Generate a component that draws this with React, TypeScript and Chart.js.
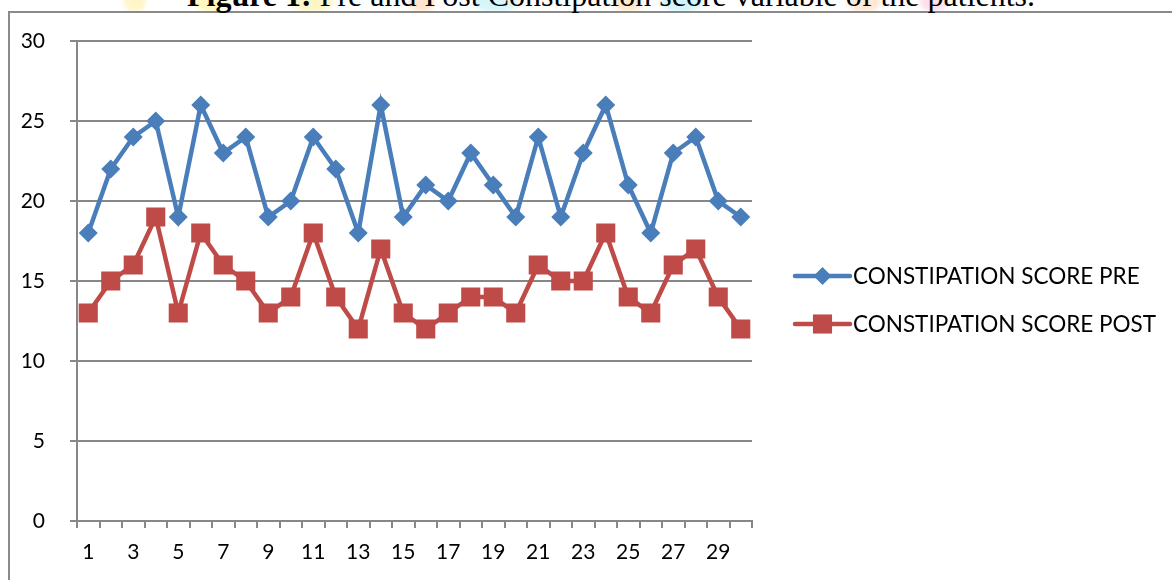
import React, { useEffect, useRef } from "react";
import { Chart, registerables } from "chart.js";

Chart.register(...registerables);

// Patient numbers along the x axis
const patients: string[] = Array.from({ length: 30 }, (_, i) => String(i + 1));

// Constipation score before treatment
const scorePre: number[] = [
  18, 22, 24, 25, 19, 26, 23, 24, 19, 20,
  24, 22, 18, 26, 19, 21, 20, 23, 21, 19,
  24, 19, 23, 26, 21, 18, 23, 24, 20, 19,
];

// Constipation score after treatment
const scorePost: number[] = [
  13, 15, 16, 19, 13, 18, 16, 15, 13, 14,
  18, 14, 12, 17, 13, 12, 13, 14, 14, 13,
  16, 15, 15, 18, 14, 13, 16, 17, 14, 12,
];

const seriesNames = ["CONSTIPATION SCORE PRE", "CONSTIPATION SCORE POST"];

const BLUE = "#4a7ebb";
const RED = "#be4b48";
const GRID = "#878787";
const FONT = "Lato, 'Liberation Sans', sans-serif";

// Pale decorative spots of the page background behind the heading
const spots = [
  { x: 135, w: 22, c: "#fff6c8" },
  { x: 212, w: 36, c: "#fff8c0" },
  { x: 312, w: 44, c: "#fbf6c6" },
  { x: 422, w: 26, c: "#ffe6cc" },
  { x: 496, w: 46, c: "#d6f6fb" },
  { x: 628, w: 30, c: "#ffe8d2" },
  { x: 682, w: 42, c: "#d2f4fa" },
  { x: 864, w: 34, c: "#ffe8d6" },
  { x: 934, w: 28, c: "#fde0ec" },
];

// Legend drawn as a line with its marker in the middle, Office style
const lineLegend = {
  id: "lineLegend",
  afterDraw(chart: any) {
    const { ctx, chartArea } = chart;
    const x0 = chartArea.right + 43;
    const lineLen = 55;
    const rows = [
      { y: 276, color: BLUE, style: "rectRot", radius: 9 },
      { y: 324, color: RED, style: "rect", radius: 13.5 },
    ];
    ctx.save();
    rows.forEach((r, i) => {
      ctx.strokeStyle = r.color;
      ctx.lineWidth = 4.5;
      ctx.lineCap = "round";
      ctx.beginPath();
      ctx.moveTo(x0, r.y);
      ctx.lineTo(x0 + lineLen, r.y);
      ctx.stroke();
      ctx.fillStyle = r.color;
      const cx = x0 + lineLen / 2;
      ctx.beginPath();
      if (r.style === "rectRot") {
        ctx.moveTo(cx, r.y - r.radius);
        ctx.lineTo(cx + r.radius, r.y);
        ctx.lineTo(cx, r.y + r.radius);
        ctx.lineTo(cx - r.radius, r.y);
      } else {
        const h = r.radius * Math.SQRT1_2;
        ctx.rect(cx - h, r.y - h, 2 * h, 2 * h);
      }
      ctx.closePath();
      ctx.fill();
      ctx.fillStyle = "#000";
      ctx.font = `22.5px ${FONT}`;
      ctx.textBaseline = "middle";
      ctx.textAlign = "left";
      ctx.fillText(seriesNames[i], x0 + lineLen + 3, r.y + 1);
    });
    ctx.restore();
  },
};

export default function App() {
  const canvasRef = useRef<HTMLCanvasElement | null>(null);

  useEffect(() => {
    const canvas = canvasRef.current;
    if (!canvas) return;
    const chart = new Chart(canvas, {
      type: "line",
      data: {
        labels: patients,
        datasets: [
          {
            label: seriesNames[0],
            data: scorePre,
            borderColor: BLUE,
            backgroundColor: BLUE,
            borderWidth: 4.5,
            pointStyle: "rectRot",
            pointRadius: 9.5,
            pointBorderWidth: 0,
            pointBackgroundColor: BLUE,
            tension: 0,
          },
          {
            label: seriesNames[1],
            data: scorePost,
            borderColor: RED,
            backgroundColor: RED,
            borderWidth: 4.5,
            pointStyle: "rect",
            pointRadius: 13.5,
            pointBorderWidth: 0,
            pointBackgroundColor: RED,
            tension: 0,
          },
        ],
      },
      options: {
        responsive: false,
        animation: false,
        layout: { padding: { top: 41, right: 420, bottom: 0, left: 0 } },
        plugins: {
          legend: { display: false },
          tooltip: { enabled: false },
          title: { display: false },
        },
        scales: {
          x: {
            offset: true,
            afterFit: (s: any) => {
              s.height = 59;
            },
            grid: {
              offset: true,
              drawOnChartArea: false,
              drawTicks: true,
              tickLength: 7,
              color: GRID,
              lineWidth: 2,
            },
            border: { display: true, color: GRID, width: 2 },
            ticks: {
              autoSkip: false,
              maxRotation: 0,
              padding: 12,
              color: "#000",
              font: { family: FONT, size: 21 },
              callback: (_v: any, i: number) => (i % 2 === 0 ? patients[i] : ""),
            },
          },
          y: {
            min: 0,
            max: 30,
            afterFit: (s: any) => {
              s.width = 77;
            },
            grid: {
              color: GRID,
              lineWidth: 2,
              drawTicks: true,
              tickLength: 7,
            },
            border: { display: true, color: GRID, width: 2 },
            ticks: {
              stepSize: 5,
              padding: 25,
              color: "#000",
              font: { family: FONT, size: 21 },
            },
          },
        },
      },
      plugins: [lineLegend],
    });
    return () => chart.destroy();
  }, []);

  return (
    <div
      style={{
        position: "absolute",
        left: 0,
        top: 0,
        width: 1172,
        height: 580,
        overflow: "hidden",
        background: "#fff",
      }}
    >
      {spots.map((s, i) => (
        <div
          key={i}
          style={{
            position: "absolute",
            left: s.x - s.w / 2,
            top: -8,
            width: s.w,
            height: 20,
            borderRadius: "50%",
            background: s.c,
            filter: "blur(2px)",
          }}
        />
      ))}
      <div
        style={{
          position: "absolute",
          left: 8,
          top: 11,
          width: 1200,
          height: 600,
          borderTop: "2px solid #8a8a8a",
          borderLeft: "2px solid #8a8a8a",
          boxSizing: "border-box",
          background: "#fff",
        }}
      />
      <div
        style={{
          position: "absolute",
          left: 0,
          width: 1172,
          top: -23,
          textAlign: "center",
          paddingLeft: 50,
          boxSizing: "border-box",
          fontFamily: "'Liberation Serif', 'Times New Roman', serif",
          fontSize: 32,
          lineHeight: "36px",
          color: "#000",
          whiteSpace: "nowrap",
        }}
      >
        <b>Figure 1:</b> Pre and Post Constipation score variable of the patients.
      </div>
      <canvas
        ref={canvasRef}
        width={1172}
        height={580}
        style={{ position: "absolute", left: 0, top: 0, width: 1172, height: 580 }}
      />
    </div>
  );
}
